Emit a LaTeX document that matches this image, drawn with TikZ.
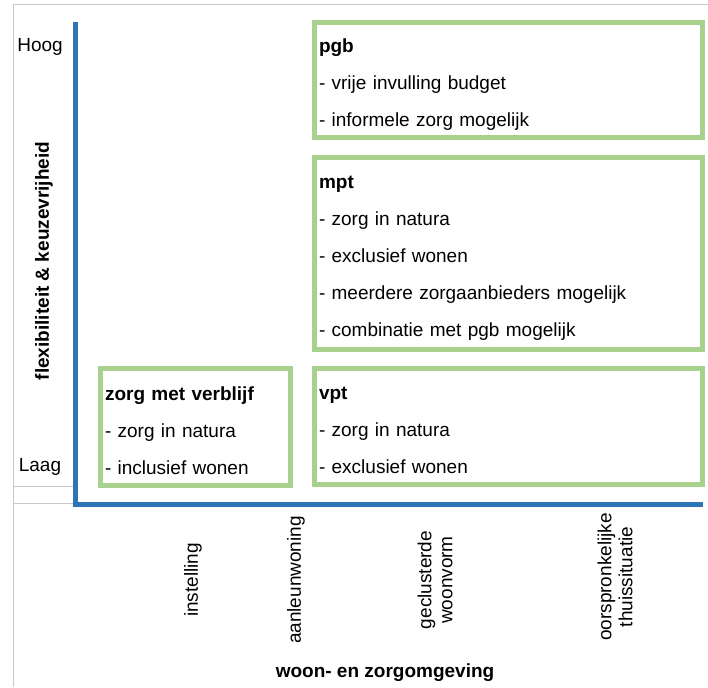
\documentclass[tikz,border=0pt]{standalone}
\usepackage{fontspec}
\setmainfont{Liberation Sans}
\usepackage{tikz}
\definecolor{boxgreen}{RGB}{169,209,142}
\definecolor{axisblue}{RGB}{46,117,182}
\definecolor{gridgray}{RGB}{200,200,200}

\begin{document}
\begin{tikzpicture}
		[%%%%%%%%%%%%%%%%%%%%%%%%%%%%%%
		x=1pt,y=-1pt,
		box/.style={rectangle,draw=boxgreen,line width=5pt,inner xsep=5pt,inner ysep=0pt,align=left,font=\fontsize{19}{37}\selectfont},
		axis/.style={draw=axisblue,line width=5pt},
		tick/.style={rotate=90,align=center,font=\fontsize{19}{21}\selectfont},
		lab/.style={font=\fontsize{19}{22}\selectfont\bfseries},
		]%%%%%%%%%%%%%%%%%%%%%%%%%%%%%%
		\useasboundingbox (0,0) rectangle (708,687);
		
		% cell lines of the sheet
		\draw[gridgray,line width=1pt] (13,687) -- (13,5) -- (708,5);
		\draw[gridgray,line width=1pt] (13,486) -- (73,486);
		\draw[gridgray,line width=1pt] (13,503) -- (73,503);
		
		% axes
		\coordinate (ytop) at (75.5,22);
		\coordinate (origin) at (75.5,504);
		\coordinate (xend) at (703,504);
		\draw[axis] (ytop) -- (origin) -- (xend);
		
		\node[lab,rotate=90] (ylab) at (44,261) {flexibiliteit \& keuzevrijheid};
		\node[font=\fontsize{19}{22}\selectfont] (hoog) at (40,47) {Hoog};
		\node[font=\fontsize{19}{22}\selectfont] (laag) at (40,467) {Laag};
		
		\node[lab] (xlab) at (385,673) {woon- en zorgomgeving};
		\node[tick] (instelling) at (193,580) {instelling};
		\node[tick] (aanleun) at (296,580) {aanleunwoning};
		\node[tick] (geclusterd) at (435,580) {geclusterde\\woonvorm};
		\node[tick] (thuis) at (615,577) {oorspronkelijke\\thuissituatie};
		
		% the four arrangements
		\node[box,text width=378pt,minimum height=115pt] (pgb) at (508,80)
			{\rule{0pt}{22pt}\textbf{pgb}\\- vrije invulling budget\\- informele zorg mogelijk};
		\node[box,text width=378pt,minimum height=191.5pt] (mpt) at (508,253.25)
			{\rule{0pt}{22pt}\textbf{mpt}\\- zorg in natura\\- exclusief wonen\\- meerdere zorgaanbieders mogelijk\\- combinatie met pgb mogelijk};
		\node[box,text width=378pt,minimum height=116pt] (vpt) at (508,426)
			{\rule{0pt}{22pt}\textbf{vpt}\\- zorg in natura\\- exclusief wonen};
		\node[box,text width=180pt,minimum height=116.5pt] (verblijf) at (195,426.75)
			{\rule{0pt}{22pt}\textbf{zorg met verblijf}\\- zorg in natura\\- inclusief wonen};
\end{tikzpicture}
\end{document}
